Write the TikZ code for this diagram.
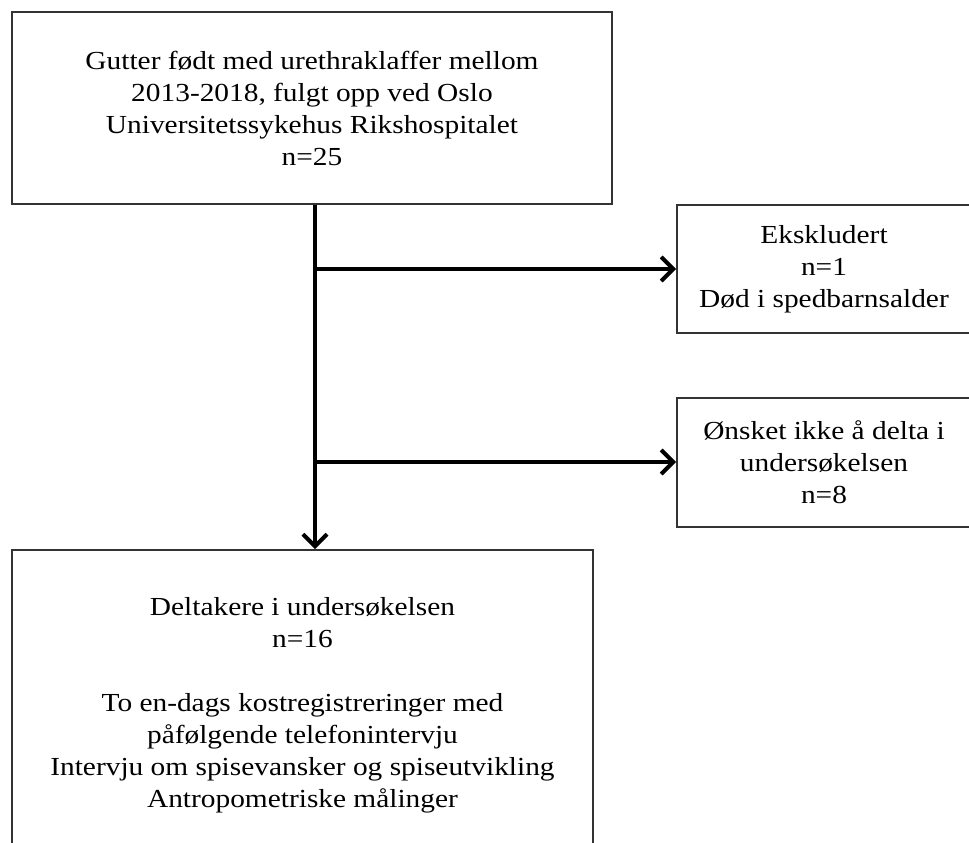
\documentclass[tikz,border=0pt]{standalone}
\usepackage{fontspec}
\setmainfont{Liberation Serif}[FakeStretch=1.13]
\usetikzlibrary{arrows.meta}

\tikzset{
  box/.style={draw=black!80, line width=2pt, align=center, inner sep=0pt,
    font=\fontsize{26}{32}\selectfont},
  flow/.style={line width=4pt, -{Straight Barb[length=12pt,width=24pt]}}
}

\begin{document}
\begin{tikzpicture}[x=1pt,y=-1pt]
  \clip (0,0) rectangle (969,843);
  \node[box,minimum width=600pt,minimum height=192pt] (cohort) at (312,108)
    {Gutter født med urethraklaffer mellom\\2013-2018, fulgt opp ved Oslo\\Universitetssykehus Rikshospitalet\\n=25};
  \node[box,minimum width=294pt,minimum height=128pt] (excl) at (824,269)
    {Ekskludert\\n=1\\Død i spedbarnsalder};
  \node[box,minimum width=294pt,minimum height=129pt] (declined) at (824,462)
    {Ønsket ikke å delta i\\undersøkelsen\\n=8};
  \node[box,minimum width=581pt,minimum height=310pt] (participants) at (302.5,705)
    {Deltakere i undersøkelsen\\n=16\\[32pt]To en-dags kostregistreringer med\\påfølgende telefonintervju\\Intervju om spisevansker og spiseutvikling\\Antropometriske målinger};
  \coordinate (j1) at (315,269);
  \coordinate (j2) at (315,462);
  \draw[flow] (cohort.south -| j1) -- (participants.north -| j1);
  \draw[flow] (j1) -- (excl.west);
  \draw[flow] (j2) -- (declined.west);
\end{tikzpicture}
\end{document}
